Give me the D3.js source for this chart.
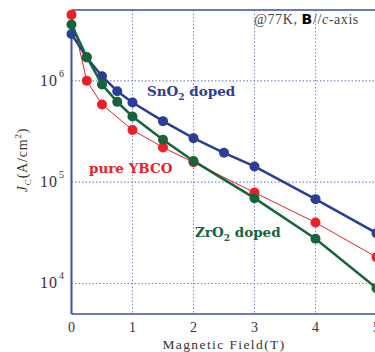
<!DOCTYPE html>
<html><head><meta charset="utf-8">
<script src="https://cdn.jsdelivr.net/npm/d3@7"></script>
<style>body{margin:0;background:#fff}svg{display:block}</style>
</head><body><svg id="c" width="375" height="352"></svg>
<script>
const fieldTicks=[0,1,2,3,4,5];
const yTicks=[1e4,1e5,1e6];
const yTickExp=["4","5","6"];
const pureX=[0,0.25,0.5,1,1.5,2,3,4,5];
const pureY=[4.5e6,1.0e6,5.85e5,3.27e5,2.2e5,1.57e5,7.9e4,4.0e4,1.82e4];
const zrX=[0,0.25,0.5,0.75,1,1.5,2,3,4,5];
const zrY=[3.6e6,1.72e6,9.2e5,6.2e5,4.45e5,2.62e5,1.62e5,6.95e4,2.76e4,9.0e3];
const snX=[0,0.25,0.5,0.75,1,1.5,2,2.5,3,4,5];
const snY=[2.9e6,1.7e6,1.11e6,7.9e5,6.1e5,4.0e5,2.72e5,1.95e5,1.43e5,6.8e4,3.14e4];

const svg=d3.select("#c");
const L=71.5,R=376.5,T=10,B=314;
const x=d3.scaleLinear().domain([0,5]).range([L,R]);
const y=d3.scaleLog().domain([5e3,5e6]).range([B,T]);
const axisCol="#3a4fa5", gridCol="#7a88c8";
const blue="#2b3d97", red="#ec2027", green="#17643a";

svg.append("g").selectAll("line").data(fieldTicks.slice(1,5)).join("line")
 .attr("x1",d=>x(d)).attr("x2",d=>x(d)).attr("y1",T).attr("y2",B)
 .attr("stroke",gridCol).attr("stroke-width",1).attr("stroke-dasharray","1.5,2");
svg.append("g").selectAll("line").data(yTicks).join("line")
 .attr("x1",L).attr("x2",R).attr("y1",d=>y(d)).attr("y2",d=>y(d))
 .attr("stroke",gridCol).attr("stroke-width",1.2).attr("stroke-dasharray","1.5,2");

svg.append("line").attr("x1",L).attr("x2",R).attr("y1",T).attr("y2",T).attr("stroke",axisCol).attr("stroke-width",1.5);
svg.append("line").attr("x1",L).attr("x2",L).attr("y1",T).attr("y2",B).attr("stroke",axisCol).attr("stroke-width",2);
svg.append("line").attr("x1",L).attr("x2",R).attr("y1",B).attr("y2",B).attr("stroke",axisCol).attr("stroke-width",1.5);

const serif="'Liberation Serif','DejaVu Serif',serif";
svg.append("g").selectAll("text").data(fieldTicks).join("text")
 .attr("x",d=>x(d)).attr("y",332).attr("text-anchor","middle")
 .attr("font-family",serif).attr("font-size",14).attr("fill","#333").text(d=>d);
svg.append("text").attr("x",224).attr("y",349).attr("text-anchor","middle")
 .attr("font-family",serif).attr("font-size",13.5).attr("letter-spacing","1.4px").attr("fill","#333").text("Magnetic Field(T)");

yTicks.forEach((v,i)=>{
  svg.append("text").attr("x",58).attr("y",y(v)+5).attr("text-anchor","end")
   .attr("font-family",serif).attr("font-size",16).attr("letter-spacing","1px").attr("fill","#333").text("10");
  svg.append("text").attr("x",59).attr("y",y(v)-4)
   .attr("font-family",serif).attr("font-size",10).attr("fill","#333").text(yTickExp[i]);
});

const yl=svg.append("text").attr("transform","translate(27,160) rotate(-90)").attr("text-anchor","middle")
 .attr("font-family",serif).attr("font-size",14).attr("letter-spacing","0.8px").attr("fill","#333");
yl.append("tspan").attr("font-style","italic").text("J");
yl.append("tspan").attr("font-size",9).attr("dy",4).text("C");
yl.append("tspan").attr("dy",-4).text("(A/cm");
yl.append("tspan").attr("font-size",9).attr("dy",-6).text("2");
yl.append("tspan").attr("dy",6).text(")");

const line=d3.line().x(d=>x(d[0])).y(d=>y(d[1]));
function series(xs,ys,col,w){
  const pts=xs.map((v,i)=>[v,ys[i]]);
  svg.append("path").datum(pts).attr("d",line).attr("fill","none").attr("stroke",col).attr("stroke-width",w);
  svg.append("g").selectAll("circle").data(pts).join("circle")
   .attr("cx",d=>x(d[0])).attr("cy",d=>y(d[1])).attr("r",5).attr("fill",col);
}
series(pureX,pureY,red,1);
series(snX,snY,blue,2.5);
series(zrX,zrY,green,2.5);

const lab="'DejaVu Serif',serif";
function label(xp,yp,col,parts,fs){
  const t=svg.append("text").attr("x",xp).attr("y",yp).attr("font-family",lab).attr("font-weight","bold")
   .attr("font-size",fs).attr("fill",col);
  parts.forEach(p=>{const s=t.append("tspan").text(p[0]).attr("font-size",p[2]||fs); if(p[1]) s.attr("dy",p[1]);});
}
label(147,96,blue,[["SnO"],["2",4,9],[" doped",-4]],13.5);
label(89,173,red,[["pure YBCO"]],13.5);
label(195,237,green,[["ZrO"],["2",4,9],[" doped",-4]],13.5);

const c=svg.append("text").attr("x",254).attr("y",24).attr("font-family",serif).attr("font-size",14).attr("letter-spacing","0.6px").attr("fill","#444");
c.append("tspan").text("@77K, ");
c.append("tspan").attr("font-family","'DejaVu Sans',sans-serif").attr("font-weight","bold").attr("fill","#000").text("B");
c.append("tspan").text("//");
c.append("tspan").attr("font-style","italic").text("c");
c.append("tspan").text("-axis");
</script></body></html>
